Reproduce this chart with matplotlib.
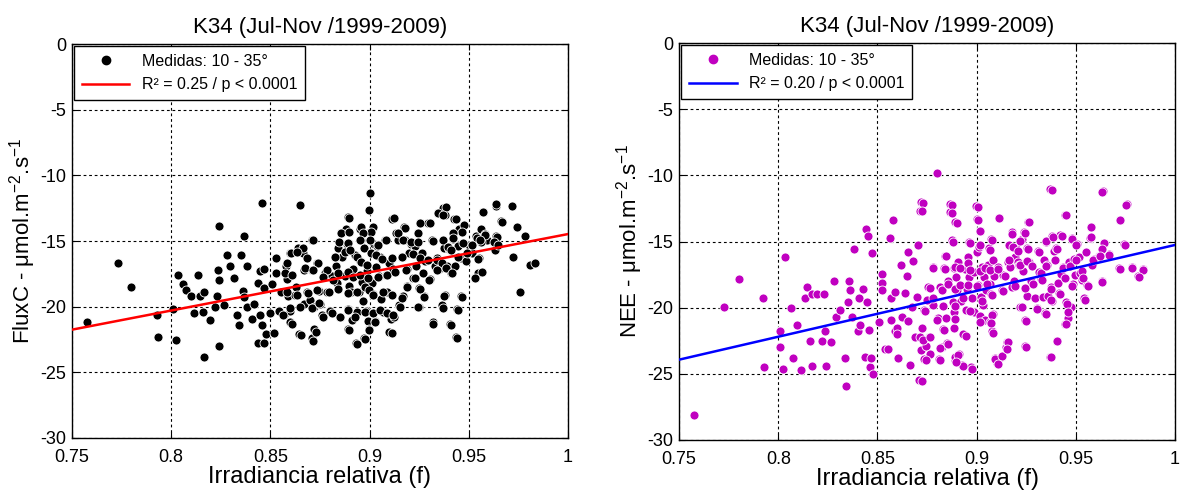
import numpy as np
import matplotlib
matplotlib.use("Agg")
import matplotlib.pyplot as plt
from matplotlib.lines import Line2D

plt.rcParams['font.family'] = ['Liberation Sans', 'DejaVu Sans']
plt.rcParams['mathtext.fontset'] = 'custom'
plt.rcParams['mathtext.rm'] = 'Liberation Sans'
plt.rcParams['mathtext.it'] = 'Liberation Sans'
plt.rcParams['axes.unicode_minus'] = False

# Panel A: FluxC vs relative irradiance
flux_x = [0.7576, 0.773, 0.780, 0.7928, 0.7932, 0.8011, 0.8025, 0.8034, 0.806, 0.8076,
          0.810, 0.8116, 0.8133, 0.8146, 0.816, 0.8167, 0.8167, 0.8196, 0.8219, 0.8232,
          0.8238, 0.824, 0.8243, 0.8243, 0.8266, 0.828, 0.8295, 0.8317, 0.8333, 0.8344,
          0.8352, 0.836, 0.8369, 0.8369, 0.8384, 0.8384, 0.8405, 0.842, 0.8437, 0.844,
          0.8447, 0.845, 0.8456, 0.8456, 0.8466, 0.847, 0.847, 0.848, 0.850, 0.851,
          0.852, 0.8527, 0.8527, 0.8546, 0.8555, 0.857, 0.858, 0.8584, 0.859, 0.8597,
          0.860, 0.860, 0.8623, 0.863, 0.8637, 0.8642, 0.865, 0.8664, 0.8668, 0.867,
          0.8684, 0.870, 0.8708, 0.871, 0.871, 0.872, 0.8722, 0.8736, 0.8745, 0.875,
          0.8759, 0.8774, 0.8783, 0.880, 0.8812, 0.8825, 0.883, 0.8837, 0.884, 0.885,
          0.8855, 0.8863, 0.8875, 0.8882, 0.8888, 0.889, 0.8893, 0.8893, 0.8897, 0.8907,
          0.891, 0.8916, 0.8926, 0.893, 0.8935, 0.8945, 0.895, 0.8954, 0.8958, 0.8964,
          0.8968, 0.897, 0.8973, 0.898, 0.8985, 0.899, 0.8996, 0.8998, 0.900, 0.900,
          0.9005, 0.901, 0.9015, 0.902, 0.9027, 0.903, 0.904, 0.905, 0.9055, 0.906,
          0.907, 0.908, 0.9082, 0.909, 0.910, 0.910, 0.9107, 0.9112, 0.9116, 0.9122,
          0.9135, 0.9145, 0.915, 0.9164, 0.917, 0.9173, 0.918, 0.9187, 0.919, 0.920,
          0.921, 0.922, 0.923, 0.9235, 0.9243, 0.925, 0.925, 0.9255, 0.9262, 0.9274,
          0.928, 0.9297, 0.9306, 0.9316, 0.932, 0.933, 0.934, 0.9344, 0.935, 0.9363,
          0.937, 0.9376, 0.9378, 0.938, 0.939, 0.940, 0.9406, 0.941, 0.942, 0.9425,
          0.943, 0.9434, 0.944, 0.9445, 0.945, 0.946, 0.9463, 0.9477, 0.9487, 0.950,
          0.9515, 0.953, 0.9534, 0.9545, 0.955, 0.956, 0.9573, 0.958, 0.959, 0.963,
          0.9635, 0.9638, 0.9662, 0.9719, 0.9723, 0.9744, 0.976, 0.9786, 0.981, 0.9834,
          # denser core
          0.8896, 0.8957, 0.9017, 0.9005, 0.8965, 0.8856, 0.8896, 0.9123, 0.9178, 0.9145,
          0.9254, 0.9304, 0.9242, 0.9346, 0.9383, 0.9372, 0.9434, 0.9464, 0.9422, 0.9573,
          0.9540, 0.9582, 0.9637, 0.9666, 0.9640, 0.8716, 0.8666, 0.8604, 0.8632, 0.8844,
          0.8891, 0.8952, 0.9002, 0.9041, 0.9083, 0.9170, 0.9209, 0.9242, 0.9318, 0.9372,
          0.9397, 0.9422, 0.9472, 0.9514, 0.9563, 0.9629, 0.9649, 0.8582, 0.8683, 0.8742,
          0.8784, 0.8826, 0.8878, 0.8901, 0.8935, 0.8957, 0.8989, 0.9032, 0.9061, 0.9115,
          0.9165, 0.9217, 0.9254, 0.9294, 0.9338, 0.9367, 0.9410, 0.9447, 0.9489, 0.9548,
          0.9557, 0.8574, 0.8607, 0.8674, 0.8716, 0.8767, 0.8817, 0.8842, 0.8893, 0.8918,
          0.8952, 0.8994, 0.9044, 0.9086, 0.9128, 0.9184, 0.9229, 0.9271, 0.9301, 0.9338,
          0.9383, 0.9414, 0.9531, 0.9565, 0.8582, 0.8632, 0.8691, 0.8733, 0.8797, 0.8842,
          0.8893, 0.8935, 0.8977, 0.8999, 0.9019, 0.9066, 0.9111, 0.9162, 0.9190, 0.9254,
          0.9276, 0.9377, 0.9464, 0.8565, 0.8599, 0.8649, 0.8708, 0.8747, 0.8767, 0.8809,
          0.8851, 0.8893, 0.8926, 0.8977, 0.9019, 0.9052, 0.9086, 0.9120, 0.9153, 0.9246,
          0.9368, 0.9447, 0.8607, 0.8653, 0.8713, 0.8730, 0.8896, 0.8938, 0.8977, 0.8999,
          0.9027, 0.9111, 0.9321, 0.9408, 0.9439]
flux_y = [-21.14, -16.66, -18.5, -20.6, -22.3, -20.2, -22.5, -17.6, -18.25, -18.7,
          -19.2, -20.5, -17.6, -19.2, -20.4, -18.9, -23.8, -21.0, -20.0, -19.2,
          -17.2, -17.97, -13.84, -23.0, -19.9, -16.1, -16.9, -17.8, -20.6, -21.4,
          -16.1, -18.8, -14.6, -19.25, -16.9, -20.06, -20.9, -19.8, -18.2, -22.8,
          -17.3, -20.6, -12.13, -21.4, -22.8, -18.6, -17.1, -22.1, -20.5, -18.3,
          -22.0, -16.3, -17.4, -20.3, -18.9, -20.6, -16.9, -17.9, -19.2, -21.2,
          -15.9, -20.3, -19.1, -18.5, -15.5, -22.1, -12.26, -15.9, -17.2, -19.8,
          -18.9, -19.5, -22.4, -14.9, -17.2, -21.7, -20.06, -16.66, -18.8, -19.8,
          -20.6, -17.4, -18.9, -20.3, -17.7, -16.2, -16.9, -18.2, -15.5, -20.8,
          -14.4, -16.2, -17.7, -14.1, -15.2, -20.2, -13.2, -21.7, -18.4, -18.9,
          -21.0, -17.1, -16.1, -22.8, -20.4, -18.9, -14.1, -16.5, -14.9, -18.1,
          -19.55, -15.5, -22.4, -20.3, -17.3, -21.1, -12.6, -21.7, -11.33, -14.3,
          -15.9, -18.2, -19.05, -15.2, -21.07, -17.0, -15.4, -17.7, -16.2, -19.4,
          -20.4, -14.9, -17.6, -18.9, -16.66, -21.95, -20.9, -13.3, -17.1, -20.8,
          -14.4, -14.9, -19.9, -16.2, -19.2, -13.9, -14.9, -18.4, -17.1, -15.9,
          -15.2, -17.8, -15.4, -16.9, -14.4, -18.6, -20.06, -13.6, -15.9, -19.2,
          -16.5, -13.6, -17.9, -14.9, -21.2, -16.9, -16.3, -12.9, -17.1, -19.9,
          -12.5, -15.5, -19.1, -13.0, -16.9, -15.6, -21.3, -17.4, -14.85, -13.3,
          -16.9, -22.3, -20.2, -15.4, -14.1, -19.2, -16.3, -13.8, -16.5, -15.3,
          -15.9, -17.8, -14.6, -17.4, -16.3, -14.1, -12.8, -14.5, -14.9, -15.7,
          -12.3, -14.6, -13.5, -12.3, -16.2, -13.9, -18.9, -14.6, -16.8, -16.66,
          # denser core
          -13.22, -13.91, -13.91, -14.29, -14.42, -14.42, -14.29, -13.27, -14.04, -14.42,
          -13.66, -13.66, -14.42, -12.89, -12.44, -13.02, -13.35, -14.29, -14.42, -12.77,
          -14.8, -14.54, -12.18, -13.53, -14.67, -14.92, -15.56, -15.94, -15.81, -15.05,
          -15.18, -14.92, -14.92, -15.31, -14.92, -14.92, -15.05, -15.05, -15.0, -14.92,
          -15.43, -14.8, -15.18, -15.31, -15.05, -15.05, -15.31, -16.7, -16.32, -16.7,
          -17.21, -16.19, -15.81, -15.69, -16.19, -16.57, -16.83, -16.07, -16.4, -16.32,
          -16.24, -15.99, -16.32, -16.45, -16.45, -16.7, -15.69, -16.19, -15.94, -16.4,
          -14.92, -17.46, -17.59, -17.08, -17.21, -17.72, -17.97, -17.46, -17.34, -17.72,
          -17.59, -17.84, -17.72, -17.59, -17.34, -17.21, -17.84, -17.46, -17.97, -17.21,
          -17.08, -17.46, -17.84, -17.34, -18.86, -19.11, -18.99, -18.73, -18.91, -18.68,
          -18.99, -18.86, -18.48, -18.73, -19.11, -18.86, -19.11, -19.37, -18.53, -18.68,
          -19.24, -19.16, -19.29, -20.64, -20.13, -20.0, -20.13, -19.75, -20.76, -20.51,
          -20.76, -20.25, -20.76, -20.38, -20.51, -20.25, -20.51, -20.64, -20.0, -20.05,
          -20.08, -20.25, -21.32, -22.16, -22.62, -21.9, -21.78, -22.87, -22.49, -21.78,
          -21.14, -22.03, -21.32, -21.4, -22.41]

# Panel B: NEE vs relative irradiance
nee_x = [0.7576, 0.7729, 0.780, 0.7924, 0.793, 0.801, 0.8011, 0.8023, 0.8034, 0.8063,
         0.8076, 0.8097, 0.8115, 0.8134, 0.8143, 0.8162, 0.8168, 0.8172, 0.8197, 0.822,
         0.8233, 0.8238, 0.8242, 0.8265, 0.8282, 0.8292, 0.8311, 0.8334, 0.834, 0.8351,
         0.8359, 0.8364, 0.8374, 0.8384, 0.840, 0.8408, 0.841, 0.8426, 0.8435, 0.844,
         0.8445, 0.8454, 0.8456, 0.8464, 0.8468, 0.8473, 0.8477, 0.8508, 0.8523, 0.8525,
         0.8525, 0.854, 0.8555, 0.8563, 0.857, 0.857, 0.858, 0.8588, 0.859, 0.8597,
         0.860, 0.8603, 0.8618, 0.8626, 0.864, 0.865, 0.8655, 0.8655, 0.8666, 0.8674,
         0.868, 0.8687, 0.8697, 0.8702, 0.871, 0.8712, 0.8714, 0.8718, 0.8722, 0.8727,
         0.8735, 0.8737, 0.8746, 0.8756, 0.876, 0.8765, 0.8778, 0.878, 0.8798, 0.8805,
         0.881, 0.8817, 0.8824, 0.8826, 0.883, 0.8836, 0.884, 0.8845, 0.885, 0.8855,
         0.8864, 0.8868, 0.8878, 0.888, 0.8884, 0.8884, 0.8888, 0.889, 0.889, 0.8893,
         0.8897, 0.8903, 0.8908, 0.891, 0.8922, 0.8927, 0.8933, 0.894, 0.8946, 0.895,
         0.8956, 0.896, 0.8964, 0.897, 0.8975, 0.8985, 0.8989, 0.8998, 0.9002, 0.9004,
         0.9008, 0.9011, 0.9015, 0.9017, 0.902, 0.9027, 0.903, 0.9036, 0.9042, 0.9046,
         0.9055, 0.906, 0.9065, 0.9069, 0.907, 0.9074, 0.9078, 0.908, 0.9084, 0.9088,
         0.9094, 0.9103, 0.9109, 0.9113, 0.9122, 0.9128, 0.9135, 0.9147, 0.9155, 0.916,
         0.9164, 0.9170, 0.9176, 0.918, 0.9187, 0.9193, 0.9198, 0.9208, 0.9214, 0.9221,
         0.9227, 0.9233, 0.924, 0.9242, 0.9246, 0.9246, 0.9252, 0.9256, 0.926, 0.9265,
         0.9275, 0.9294, 0.9303, 0.9309, 0.9313, 0.9322, 0.9332, 0.9342, 0.9345, 0.9351,
         0.9355, 0.936, 0.937, 0.937, 0.9374, 0.938, 0.938, 0.9389, 0.9399, 0.9405,
         0.9408, 0.9414, 0.9422, 0.9427, 0.9437, 0.9443, 0.9447, 0.9452, 0.946, 0.9466,
         0.9475, 0.9481, 0.9485, 0.949, 0.9498, 0.9504, 0.9517, 0.9523, 0.9532, 0.9542,
         0.9552, 0.9557, 0.9571, 0.9575, 0.958, 0.959, 0.9618, 0.963, 0.9637, 0.964,
         0.9666, 0.9719, 0.9723, 0.9742, 0.9757, 0.9784, 0.9813, 0.9838,
         # denser core
         0.8731, 0.8723, 0.8874, 0.8874, 0.8899, 0.9005, 0.9005, 0.9017, 0.9114, 0.9265,
         0.9176, 0.9243, 0.9218, 0.8882, 0.8966, 0.9017, 0.9067, 0.9075, 0.9184, 0.9210,
         0.9257, 0.9314, 0.9352, 0.9386, 0.9403, 0.9428, 0.9483, 0.9503, 0.9574, 0.9574,
         0.9643, 0.9668, 0.9634, 0.9747, 0.9721, 0.9755, 0.9634, 0.9379, 0.9448, 0.8845,
         0.8782, 0.8840, 0.8891, 0.8916, 0.8958, 0.8966, 0.9017, 0.9042, 0.9067, 0.9109,
         0.9143, 0.9164, 0.9218, 0.9252, 0.9277, 0.9322, 0.9352, 0.9394, 0.9436, 0.9470,
         0.9503, 0.9532, 0.9587, 0.9621, 0.9721, 0.9784, 0.9839, 0.9816, 0.9632, 0.8765,
         0.8824, 0.8857, 0.8891, 0.8916, 0.8958, 0.9000, 0.9050, 0.9075, 0.9134, 0.9193,
         0.9243, 0.9282, 0.9327, 0.9377, 0.9419, 0.9445, 0.9483, 0.9537, 0.9559, 0.9545,
         0.8748, 0.8782, 0.8832, 0.8891, 0.8933, 0.8966, 0.9025, 0.9075, 0.9231, 0.9302,
         0.9352, 0.9377, 0.9453, 0.9458, 0.8740, 0.8802, 0.8835, 0.8891, 0.8944, 0.9017,
         0.9070, 0.9080, 0.9248, 0.9450, 0.8731, 0.8765, 0.8815, 0.8857, 0.8908, 0.8929,
         0.8976, 0.9092, 0.9126, 0.9159, 0.9154, 0.9109, 0.9248, 0.9406, 0.9377, 0.8723,
         0.8743, 0.8815, 0.8896]
nee_y = [-28.1, -19.96, -17.8, -19.3, -24.5, -21.8, -23.0, -24.6, -16.2, -20.0,
         -23.8, -21.3, -24.7, -19.3, -18.4, -22.5, -24.4, -19.0, -18.95, -22.5,
         -19.0, -21.8, -24.4, -22.6, -18.0, -20.7, -20.2, -23.8, -25.9, -19.6,
         -17.95, -18.7, -20.7, -15.6, -21.8, -19.3, -21.3, -18.6, -23.7, -14.06,
         -19.6, -14.56, -21.7, -24.5, -23.8, -15.9, -25.0, -21.1, -17.45, -18.1,
         -18.7, -23.1, -23.1, -14.7, -19.3, -20.9, -13.4, -18.8, -21.8, -21.5,
         -22.0, -23.8, -16.8, -20.7, -18.9, -17.6, -15.8, -21.0, -24.35, -19.96,
         -16.45, -22.2, -19.2, -15.3, -25.5, -22.2, -12.7, -23.2, -12.0, -21.5,
         -20.2, -23.9, -22.9, -18.4, -22.2, -23.5, -16.95, -19.76, -9.8, -20.8,
         -23.9, -18.45, -22.97, -18.7, -21.6, -17.0, -16.07, -20.8, -22.7, -18.0,
         -12.2, -12.8, -14.9, -19.6, -20.3, -21.5, -17.0, -13.56, -23.98, -23.7,
         -17.7, -18.7, -16.57, -23.5, -19.5, -24.3, -22.0, -17.1, -20.2, -18.6,
         -16.2, -15.06, -17.7, -24.5, -19.3, -17.3, -20.3, -12.3, -13.3, -15.8,
         -18.3, -15.4, -20.66, -14.2, -19.2, -16.95, -19.8, -17.7, -20.96, -18.7,
         -16.8, -15.5, -18.2, -21.1, -14.8, -18.95, -21.8, -20.5, -16.4, -17.6,
         -23.8, -24.2, -16.9, -13.2, -23.7, -18.7, -17.5, -22.97, -22.6, -16.57,
         -15.3, -16.95, -14.3, -18.4, -17.95, -16.2, -15.5, -16.57, -16.8, -19.96,
         -14.8, -17.2, -14.3, -18.5, -20.9, -22.9, -19.1, -15.5, -13.5, -16.57,
         -17.95, -19.3, -20.0, -15.74, -17.3, -17.8, -19.2, -16.4, -20.4, -15.0,
         -16.8, -19.1, -11.05, -23.7, -18.4, -14.6, -19.5, -15.7, -15.5, -22.5,
         -18.1, -18.9, -14.5, -17.45, -16.95, -13.0, -21.2, -19.6, -20.8, -16.57,
         -19.96, -14.7, -18.2, -16.3, -17.55, -15.2, -16.2, -17.35, -17.9, -19.3,
         -15.8, -18.3, -14.7, -13.9, -16.8, -16.3, -16.07, -18.0, -11.2, -15.1,
         -15.95, -17.0, -13.36, -15.2, -12.2, -16.95, -17.6, -17.1,
         # denser core
         -12.09, -12.72, -12.21, -12.84, -13.6, -12.39, -13.35, -14.23, -13.22, -13.55,
         -14.4, -14.35, -14.98, -15.06, -15.11, -15.23, -15.61, -14.91, -15.41, -15.74,
         -15.56, -15.79, -14.98, -14.68, -15.56, -14.56, -14.81, -15.23, -13.9, -14.68,
         -15.11, -16.04, -15.56, -15.23, -13.35, -12.21, -11.26, -11.08, -13.02, -16.12,
         -17.0, -17.07, -16.92, -17.0, -16.62, -17.12, -17.25, -17.0, -17.12, -17.07,
         -17.58, -16.37, -16.75, -16.49, -16.82, -17.37, -16.87, -16.37, -17.0, -16.82,
         -16.37, -17.25, -16.37, -16.12, -17.07, -17.0, -17.17, -17.7, -18.05, -18.51,
         -18.63, -18.18, -18.58, -18.25, -18.25, -18.38, -18.18, -19.01, -18.76, -18.38,
         -18.51, -18.18, -17.88, -18.58, -18.93, -17.75, -18.33, -17.75, -18.33, -19.39,
         -19.39, -19.26, -19.84, -19.84, -19.26, -20.27, -19.51, -20.52, -19.94, -20.09,
         -20.44, -19.44, -19.69, -20.34, -20.27, -20.9, -21.7, -20.85, -22.11, -21.1,
         -21.15, -21.95, -20.97, -21.27, -22.41, -22.21, -23.04, -22.71, -23.54, -24.42,
         -24.6, -23.87, -23.67, -22.61, -23.16, -24.29, -22.99, -22.53, -23.72, -25.55,
         -23.97, -23.97, -24.1]

# fitted lines (end points)
fit_x = [0.75, 1.0]
flux_fit_y = [-21.75, -14.47]
nee_fit_y = [-23.93, -15.26]

x_ticks = [0.75, 0.8, 0.85, 0.9, 0.95, 1.0]
x_tick_labels = ['0.75', '0.8', '0.85', '0.9', '0.95', '1']
y_ticks = [-30, -25, -20, -15, -10, -5, 0]
y_tick_labels = ['-30', '-25', '-20', '-15', '-10', '-5', '0']

title = 'K34 (Jul-Nov /1999-2009)'
xlabel = 'Irradiancia relativa (f)'
panels = [
    dict(x=flux_x, y=flux_y, fit=flux_fit_y, color='black', line='#ff0000',
         ylabel='FluxC - μmol.m$^{-2}$.s$^{-1}$',
         fit_label='R² = 0.25 / p < 0.0001',
         rect=[0.0609, 0.1205, 0.4196, 0.791]),
    dict(x=nee_x, y=nee_y, fit=nee_fit_y, color='#c000c0', line='#0000ff',
         ylabel='NEE - μmol.m$^{-2}$.s$^{-1}$',
         fit_label='R² = 0.20 / p < 0.0001',
         rect=[0.5745, 0.1165, 0.4196, 0.797]),
]

fig = plt.figure(figsize=(11.82, 4.98), dpi=100)

for p in panels:
    ax = fig.add_axes(p['rect'])
    ax.scatter(p['x'], p['y'], s=42, c=p['color'], edgecolors='white',
               linewidths=0.6, zorder=3)
    ax.plot(fit_x, p['fit'], color=p['line'], lw=1.8, zorder=4)

    ax.set_xlim(0.75, 1.0)
    ax.set_ylim(-30, 0)
    ax.set_xticks(x_ticks)
    ax.set_xticklabels(x_tick_labels)
    ax.set_yticks(y_ticks)
    ax.set_yticklabels(y_tick_labels)
    ax.tick_params(direction='in', length=4, top=True, right=True,
                   labelsize=13)
    ax.tick_params(axis='x', pad=8)
    ax.tick_params(axis='y', pad=4)
    ax.grid(True, color='black', linestyle=(0, (2.5, 2.5)), lw=0.8)
    for s in ax.spines.values():
        s.set_linewidth(1.0)

    ax.set_title(title, fontsize=16, pad=8)
    ax.set_xlabel(xlabel, fontsize=17, labelpad=0)
    ax.set_ylabel(p['ylabel'], fontsize=16, labelpad=2)

    handles = [
        Line2D([], [], ls='none', marker='o', ms=6, color=p['color']),
        Line2D([], [], color=p['line'], lw=1.8),
    ]
    leg = ax.legend(handles, ['Medidas: 10 - 35°', p['fit_label']],
                    loc='upper left', bbox_to_anchor=(0.0, 1.0),
                    fontsize=11.5, frameon=True, fancybox=False,
                    framealpha=1, edgecolor='black', borderaxespad=0.15,
                    handlelength=3.0, handletextpad=0.8, borderpad=0.45,
                    labelspacing=0.55)
    leg.get_frame().set_linewidth(1.0)
    leg.set_zorder(5)

fig.savefig('out.png', dpi=100, facecolor='white')
